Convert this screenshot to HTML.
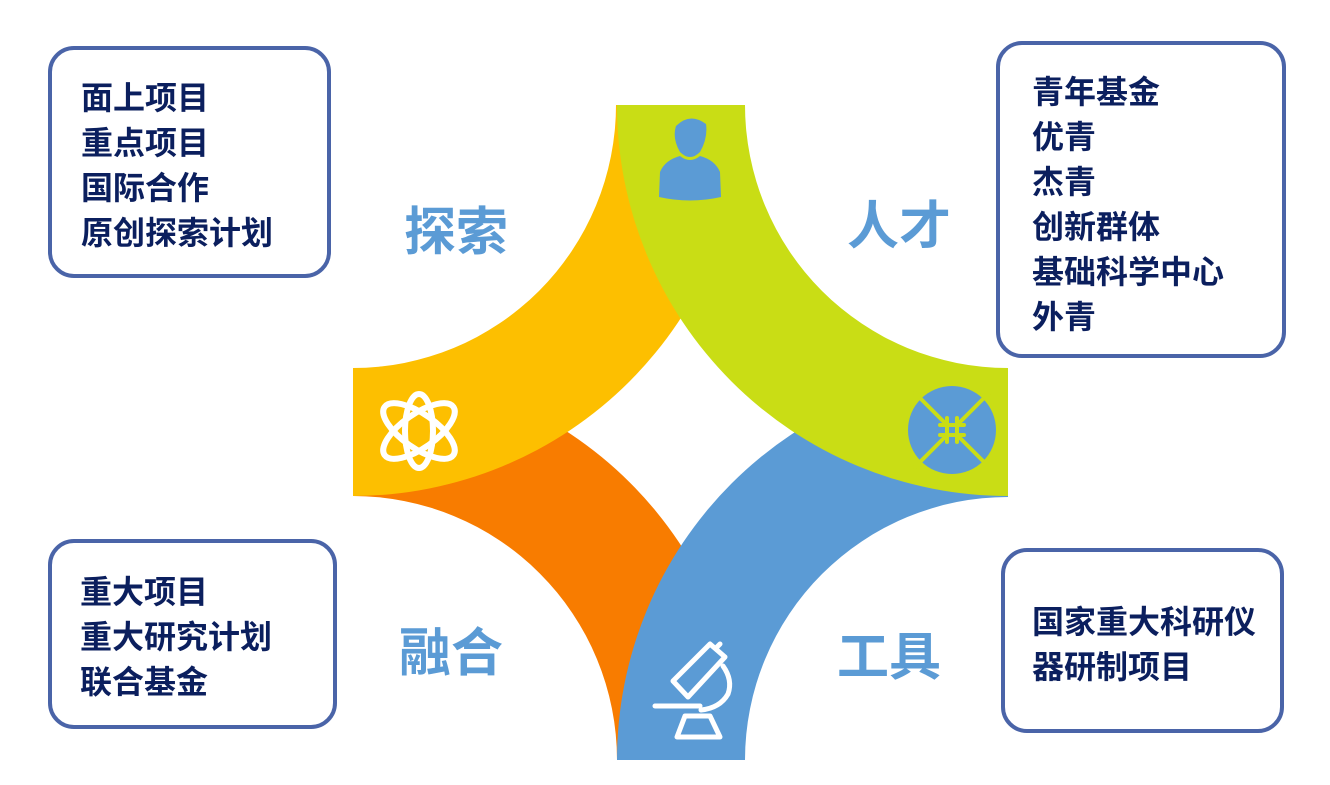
<!DOCTYPE html>
<html><head><meta charset="utf-8"><style>
body{margin:0;width:1330px;height:785px;background:#fff;position:relative;overflow:hidden;font-family:"Liberation Sans","Noto Sans CJK SC",sans-serif}
.box{position:absolute;border:4px solid #4A64A8;border-radius:26px;box-sizing:border-box}
.t{position:absolute;color:#0B1F5E;font-weight:bold;font-size:32px;line-height:45px;white-space:nowrap}
.lab{position:absolute;color:#5B9BD5;font-weight:bold;font-size:52px;line-height:60px}
svg{position:absolute;left:0;top:0}
</style></head><body>
<svg width="1330" height="785">
<path d="M353,496 A264 264 0 0 1 617,760 L745,760 A392 392 0 0 0 353,368 Z" fill="#F87C00"/>
<path d="M617,760 A391 391 0 0 1 1008,369 L1008,497 A263 263 0 0 0 745,760 Z" fill="#5B9BD5"/>
<path d="M353,368 A263 263 0 0 0 616,105 L744,105 A391 391 0 0 1 353,496 Z" fill="#FDBF00"/>
<path d="M745,105 A263 263 0 0 0 1008,368 L1008,496 A391 391 0 0 1 617,105 Z" fill="#C9DD15"/>
<!-- person -->
<g fill="#5B9BD5">
<path d="M676,126 Q690,112 706,124 Q708,138 700,152 Q690,162 680,152 Q672,138 676,126 Z"/>
<path d="M660,172 Q665,160 680,156 Q690,164 700,156 Q715,160 720,172 L721,197 Q690,204 659,197 Z"/>
</g>
<!-- atom -->
<g fill="none" stroke="#fff" stroke-width="6">
<ellipse cx="419" cy="431" rx="42" ry="17" transform="rotate(35 419 431)"/>
<ellipse cx="419" cy="431" rx="42" ry="17" transform="rotate(-35 419 431)"/>
<ellipse cx="419" cy="431" rx="14" ry="37"/>
</g>
<!-- compress icon -->
<circle cx="952" cy="430" r="44" fill="#5B9BD5"/>
<g stroke="#C9DD15" stroke-width="4" stroke-linecap="round" fill="none">
<line x1="915" y1="393" x2="945" y2="423"/><line x1="989" y1="393" x2="959" y2="423"/>
<line x1="915" y1="467" x2="945" y2="437"/><line x1="989" y1="467" x2="959" y2="437"/>
<line x1="940" y1="425" x2="964" y2="425"/><line x1="940" y1="435" x2="964" y2="435"/>
<line x1="947" y1="418" x2="947" y2="442"/><line x1="957" y1="418" x2="957" y2="442"/>
</g>
<!-- microscope -->
<g fill="none" stroke="#fff" stroke-width="5" stroke-linecap="round" stroke-linejoin="round">
<path d="M673,681 L688,697 L725,657 L710,644 Z"/>
<line x1="717" y1="647" x2="720" y2="644"/>
<path d="M723,666 Q733,680 728,694 Q720,708 701,710"/>
<line x1="655" y1="706" x2="700" y2="706"/>
<path d="M685,716 L710,716 L720,737 L677,737 Z"/>
</g>
</svg>
<div class="lab" style="left:404px;top:203px">探索</div>
<div class="lab" style="left:847px;top:197px">人才</div>
<div class="lab" style="left:399px;top:624px">融合</div>
<div class="lab" style="left:837px;top:628px">工具</div>

<div class="box" style="left:48px;top:46px;width:283px;height:232px"></div>
<div class="t" style="left:81px;top:76px">面上项目<br>重点项目<br>国际合作<br>原创探索计划</div>

<div class="box" style="left:996px;top:41px;width:290px;height:317px"></div>
<div class="t" style="left:1032px;top:70px">青年基金<br>优青<br>杰青<br>创新群体<br>基础科学中心<br>外青</div>

<div class="box" style="left:48px;top:539px;width:289px;height:190px"></div>
<div class="t" style="left:80px;top:570px">重大项目<br>重大研究计划<br>联合基金</div>

<div class="box" style="left:1001px;top:548px;width:283px;height:185px"></div>
<div class="t" style="left:1032px;top:600px">国家重大科研仪<br>器研制项目</div>
</body></html>
